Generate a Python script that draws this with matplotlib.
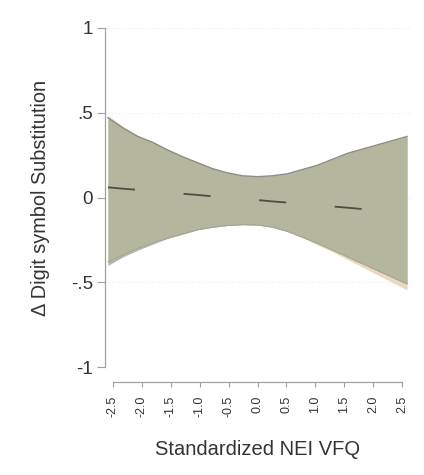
import matplotlib
matplotlib.use("Agg")
import matplotlib.pyplot as plt
import numpy as np

plt.rcParams['font.family'] = ['Liberation Sans', 'DejaVu Sans']

# data
x_vals = [-2.5, -2.25, -2.0, -1.75, -1.5, -1.25, -1.0, -0.75, -0.5, -0.25, 0.0,
          0.25, 0.5, 0.75, 1.0, 1.25, 1.5, 1.75, 2.0, 2.25, 2.5]
upper = [0.47, 0.41, 0.36, 0.325, 0.28, 0.24, 0.205, 0.17, 0.145, 0.128, 0.123,
         0.128, 0.14, 0.165, 0.19, 0.225, 0.26, 0.285, 0.31, 0.335, 0.36]
lower = [-0.38, -0.34, -0.30, -0.27, -0.24, -0.215, -0.19, -0.175, -0.165, -0.16, -0.162,
         -0.175, -0.20, -0.235, -0.27, -0.31, -0.35, -0.39, -0.43, -0.47, -0.51]
upper_b = [0.485, 0.42, 0.365, 0.325, 0.28, 0.24, 0.205, 0.17, 0.145, 0.128, 0.123,
           0.128, 0.14, 0.165, 0.19, 0.225, 0.26, 0.285, 0.31, 0.335, 0.36]
lower_b = [-0.38, -0.34, -0.30, -0.27, -0.24, -0.215, -0.19, -0.175, -0.165, -0.16, -0.162,
           -0.175, -0.20, -0.235, -0.28, -0.32, -0.365, -0.41, -0.455, -0.50, -0.545]
upper_c = [0.46, 0.41, 0.36, 0.325, 0.28, 0.24, 0.205, 0.17, 0.145, 0.128, 0.123,
           0.128, 0.14, 0.165, 0.19, 0.225, 0.26, 0.285, 0.31, 0.335, 0.355]
lower_c = [-0.40, -0.35, -0.31, -0.275, -0.24, -0.215, -0.19, -0.175, -0.165, -0.16, -0.162,
           -0.175, -0.20, -0.235, -0.27, -0.31, -0.35, -0.39, -0.43, -0.47, -0.51]
estimate = [0.06, 0.052, 0.045, 0.037, 0.03, 0.022, 0.015, 0.007, 0.0, -0.008, -0.015,
            -0.023, -0.03, -0.038, -0.045, -0.053, -0.06, -0.068, -0.075, -0.083, -0.09]
y_ticks = [1, 0.5, 0, -0.5, -1]
y_ticklabels = ['1', '.5', '0', '-.5', '-1']
x_ticks = [-2.5, -2.0, -1.5, -1.0, -0.5, 0.0, 0.5, 1.0, 1.5, 2.0, 2.5]
x_ticklabels = ['-2.5', '-2.0', '-1.5', '-1.0', '-0.5', '0.0', '0.5', '1.0', '1.5', '2.0', '2.5']

W, H = 424, 475
fig = plt.figure(figsize=(W / 100, H / 100), dpi=100)

ax_l, ax_r, ax_t, ax_b = 105, 412, 28, 367
ax = fig.add_axes([ax_l / W, 1 - ax_b / H, (ax_r - ax_l) / W, (ax_b - ax_t) / H])
ax.set_ylim(-1, 1)
ppu = (407 - 108) / 5.0
ax.set_xlim(-2.5 - (108 - ax_l) / ppu, 2.5 + (ax_r - 407) / ppu)

for yv in y_ticks:
    ax.axhline(yv, color='#ececec', lw=0.8, ls=(0, (1, 2)), zorder=0)

ax.fill_between(x_vals, lower_c, upper_c, color='#abb5b9', lw=0, zorder=1)
ax.fill_between(x_vals, lower_b, upper_b, color='#ead8c2', lw=0, zorder=1.5)
ax.fill_between(x_vals, lower, upper, color='#b5b69e', lw=0, zorder=2)
ax.plot(x_vals, upper, color='#8d8c80', lw=1.0, zorder=2.5)
ax.plot(x_vals, lower, color='#a5a595', lw=0.8, zorder=2.5)
ax.plot(x_vals, estimate, color='#4d4d42', lw=1.3, ls=(0, (15, 27)), zorder=3)

for s in ['top', 'right', 'bottom']:
    ax.spines[s].set_visible(False)
ax.spines['left'].set_color('#a0a0a0')
ax.spines['left'].set_linewidth(0.9)
ax.set_yticks(y_ticks)
ax.set_yticklabels(y_ticklabels, fontsize=13.5, color='#333333')
ax.tick_params(axis='y', colors='#a0a0a0', labelcolor='#333333', length=5.5, width=0.8, pad=3)
ax.set_xticks([])
ax.set_ylabel('Δ Digit symbol Substitution', fontsize=14.3, color='#333333')
ax.yaxis.set_label_coords((50 - ax_l) / (ax_r - ax_l), 0.5)

# separate x axis
xa_l, xa_r, xa_y = 113, 402, 382
ax2 = fig.add_axes([xa_l / W, 1 - xa_y / H, (xa_r - xa_l) / W, 0.001])
ax2.set_xlim(-2.5, 2.5)
ax2.patch.set_visible(False)
for s in ['top', 'right', 'left']:
    ax2.spines[s].set_visible(False)
ax2.spines['bottom'].set_color('#a0a0a0')
ax2.spines['bottom'].set_linewidth(0.9)
ax2.set_yticks([])
ax2.set_xticks(x_ticks)
ax2.set_xticklabels(x_ticklabels, rotation=90, fontsize=9, color='#333333')
ax2.tick_params(axis='x', colors='#a0a0a0', labelcolor='#333333', length=3.6, width=0.8, pad=6)
ax2.set_xlabel('Standardized NEI VFQ', fontsize=14.5, color='#333333', labelpad=17)

fig.savefig('out.png', dpi=100, facecolor='white')
